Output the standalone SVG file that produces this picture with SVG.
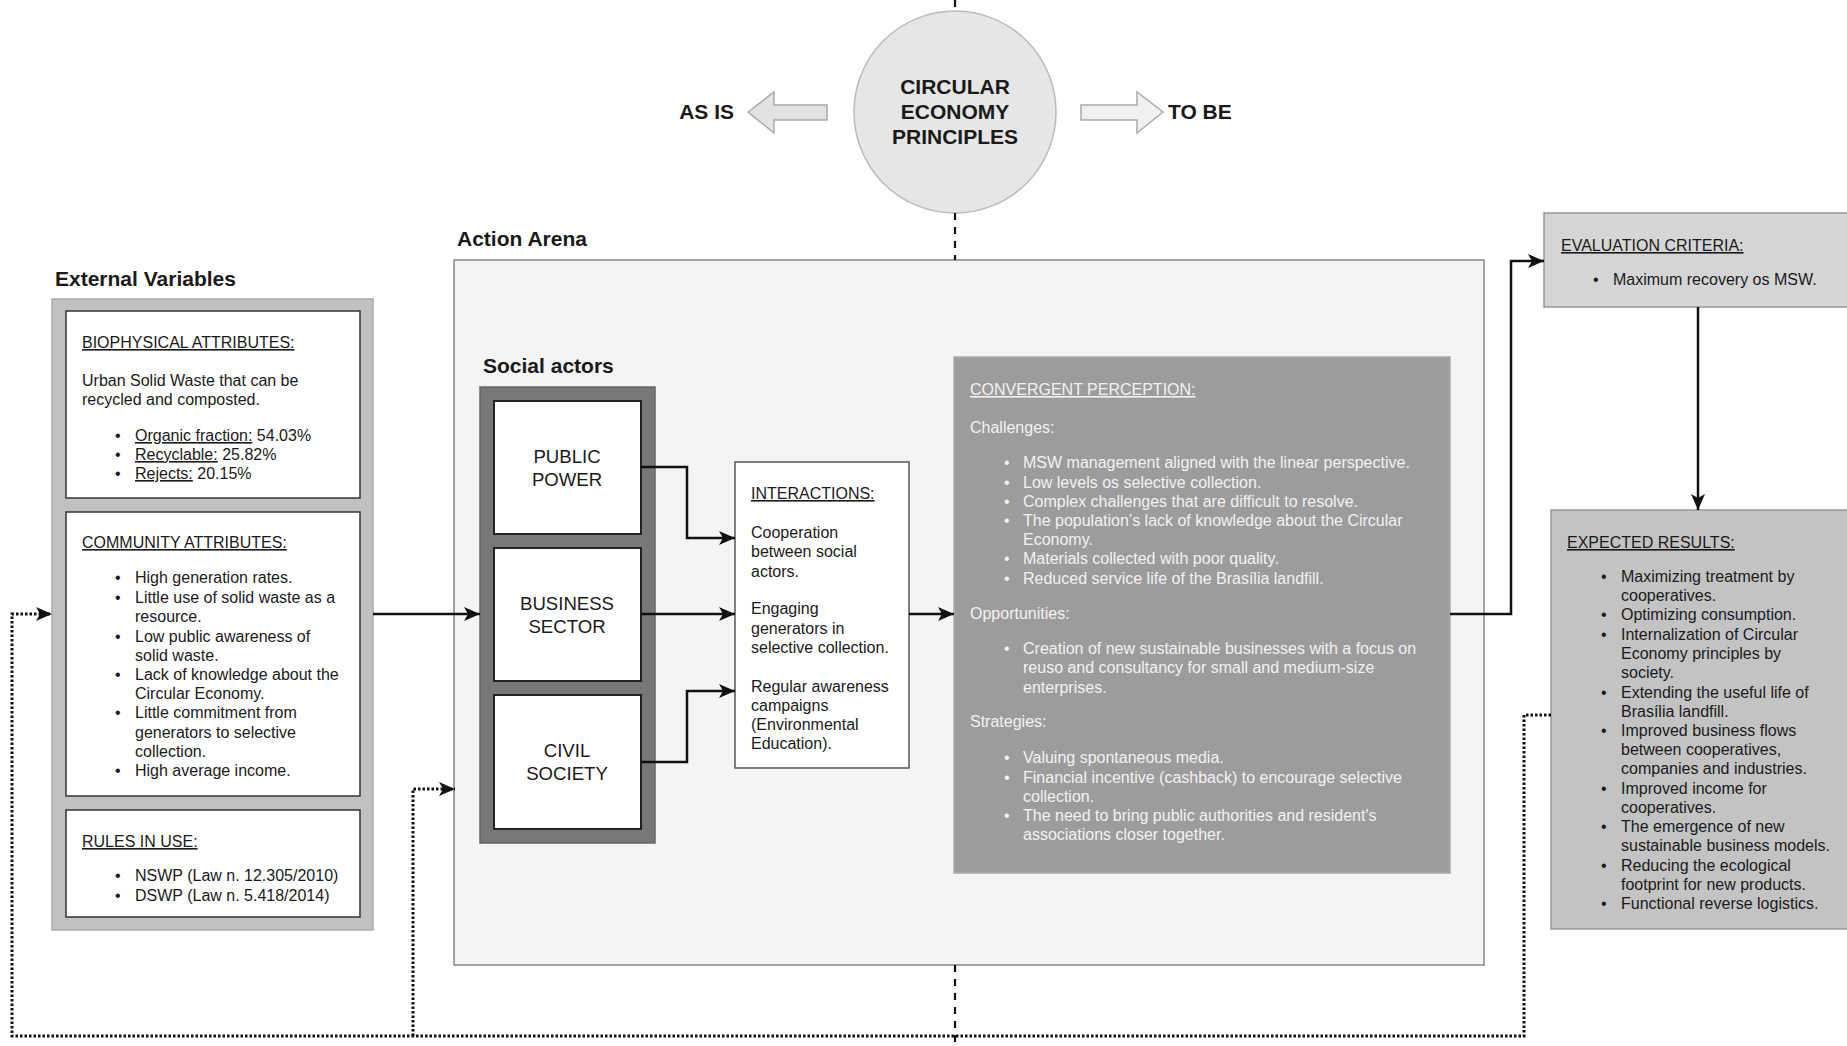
<svg xmlns="http://www.w3.org/2000/svg" width="1847" height="1046" viewBox="0 0 1847 1046">
<style>
text{font-family:"Liberation Sans",Arial,sans-serif;fill:#1a1a1a}
.t{font-size:16px}
.h{font-size:21px;font-weight:bold}
.u{text-decoration:underline}
.w{fill:#f2f2f2}
.actor{font-size:18.6px;text-anchor:middle}
.conn{fill:none;stroke:#111;stroke-width:2.5}
.dot{fill:none;stroke:#111;stroke-width:3;stroke-dasharray:2.5 2}
.dash{fill:none;stroke:#111;stroke-width:2.2;stroke-dasharray:7 7}
</style>
<defs>
<marker id="ah" markerUnits="userSpaceOnUse" markerWidth="17" markerHeight="14" refX="16" refY="7" orient="auto">
<path d="M0,0 L16,7 L0,14 L4,7 z" fill="#111"/>
</marker>
</defs>
<rect width="1847" height="1046" fill="#fff"/>

<g id="circular-economy">
<circle cx="955" cy="112" r="101" fill="#e6e6e6" stroke="#bbb" stroke-width="1.5"/>
<text class="h" x="955" y="94" text-anchor="middle">CIRCULAR</text>
<text class="h" x="955" y="119" text-anchor="middle">ECONOMY</text>
<text class="h" x="955" y="144" text-anchor="middle">PRINCIPLES</text>
</g>
<g id="as-is">
<polygon points="748,112 774,92 774,105 827,105 827,120 774,120 774,133" fill="#e2e2e2" stroke="#aaa" stroke-width="1.5"/>
<text class="h" x="734" y="119" text-anchor="end">AS IS</text>
</g>
<g id="to-be">
<polygon points="1081,105 1137,105 1137,92 1163,112 1137,133 1137,120 1081,120" fill="#f0f0f0" stroke="#aaa" stroke-width="1.5"/>
<text class="h" x="1168" y="119">TO BE</text>
</g>

<g id="external-variables">
<text class="h" x="55" y="286">External Variables</text>
<rect x="52" y="299" width="321" height="631" fill="#c1c1c1" stroke="#aaa" stroke-width="1.5"/>
<g id="biophysical">
<rect x="66" y="311" width="294" height="187" fill="#fff" stroke="#333" stroke-width="1.5"/>
<text class="t u" x="82" y="348">BIOPHYSICAL ATTRIBUTES:</text>
<text class="t" x="82" y="386">Urban Solid Waste that can be</text>
<text class="t" x="82" y="405">recycled and composted.</text>
<text class="t" x="115" y="441">•</text><text class="t" x="135" y="441"><tspan class="u">Organic fraction:</tspan> 54.03%</text>
<text class="t" x="115" y="460">•</text><text class="t" x="135" y="460"><tspan class="u">Recyclable:</tspan> 25.82%</text>
<text class="t" x="115" y="479">•</text><text class="t" x="135" y="479"><tspan class="u">Rejects:</tspan> 20.15%</text>
</g>
<g id="community">
<rect x="66" y="512" width="294" height="284" fill="#fff" stroke="#333" stroke-width="1.5"/>
<text class="t u" x="82" y="548">COMMUNITY ATTRIBUTES:</text>
<text class="t" x="115" y="583">•</text><text class="t" x="135" y="583">High generation rates.</text>
<text class="t" x="115" y="603">•</text><text class="t" x="135" y="603">Little use of solid waste as a</text>
<text class="t" x="135" y="622">resource.</text>
<text class="t" x="115" y="642">•</text><text class="t" x="135" y="642">Low public awareness of</text>
<text class="t" x="135" y="661">solid waste.</text>
<text class="t" x="115" y="680">•</text><text class="t" x="135" y="680">Lack of knowledge about the</text>
<text class="t" x="135" y="699">Circular Economy.</text>
<text class="t" x="115" y="718">•</text><text class="t" x="135" y="718">Little commitment from</text>
<text class="t" x="135" y="738">generators to selective</text>
<text class="t" x="135" y="757">collection.</text>
<text class="t" x="115" y="776">•</text><text class="t" x="135" y="776">High average income.</text>
</g>
<g id="rules">
<rect x="66" y="810" width="294" height="107" fill="#fff" stroke="#333" stroke-width="1.5"/>
<text class="t u" x="82" y="847">RULES IN USE:</text>
<text class="t" x="115" y="881">•</text><text class="t" x="135" y="881">NSWP (Law n. 12.305/2010)</text>
<text class="t" x="115" y="901">•</text><text class="t" x="135" y="901">DSWP (Law n. 5.418/2014)</text>
</g>
</g>

<g id="action-arena">
<text class="h" x="457" y="246">Action Arena</text>
<rect x="454" y="260" width="1030" height="705" fill="#f4f4f4" stroke="#888" stroke-width="1.5"/>
</g>

<g id="social-actors">
<text class="h" x="483" y="373">Social actors</text>
<rect x="480" y="387" width="175" height="456" fill="#777" stroke="#666" stroke-width="1.5"/>
<g id="public-power">
<rect x="494" y="401" width="147" height="133" fill="#fff" stroke="#222" stroke-width="2"/>
<text class="actor" x="567" y="463">PUBLIC</text>
<text class="actor" x="567" y="486">POWER</text>
</g>
<g id="business-sector">
<rect x="494" y="548" width="147" height="133" fill="#fff" stroke="#222" stroke-width="2"/>
<text class="actor" x="567" y="610">BUSINESS</text>
<text class="actor" x="567" y="633">SECTOR</text>
</g>
<g id="civil-society">
<rect x="494" y="695" width="147" height="134" fill="#fff" stroke="#222" stroke-width="2"/>
<text class="actor" x="567" y="757">CIVIL</text>
<text class="actor" x="567" y="780">SOCIETY</text>
</g>
</g>

<g id="interactions">
<rect x="735" y="462" width="174" height="306" fill="#fff" stroke="#555" stroke-width="1.5"/>
<text class="t u" x="751" y="499">INTERACTIONS:</text>
<text class="t" x="751" y="538">Cooperation</text>
<text class="t" x="751" y="557">between social</text>
<text class="t" x="751" y="577">actors.</text>
<text class="t" x="751" y="614">Engaging</text>
<text class="t" x="751" y="634">generators in</text>
<text class="t" x="751" y="653">selective collection.</text>
<text class="t" x="751" y="692">Regular awareness</text>
<text class="t" x="751" y="711">campaigns</text>
<text class="t" x="751" y="730">(Environmental</text>
<text class="t" x="751" y="749">Education).</text>
</g>

<g id="convergent-perception">
<rect x="954" y="357" width="496" height="516" fill="#9c9c9c" stroke="#aaa" stroke-width="1.5"/>
<text class="t u w" x="970" y="395">CONVERGENT PERCEPTION:</text>
<text class="t w" x="970" y="433">Challenges:</text>
<text class="t w" x="1004" y="468">•</text><text class="t w" x="1023" y="468">MSW management aligned with the linear perspective.</text>
<text class="t w" x="1004" y="488">•</text><text class="t w" x="1023" y="488">Low levels os selective collection.</text>
<text class="t w" x="1004" y="507">•</text><text class="t w" x="1023" y="507">Complex challenges that are difficult to resolve.</text>
<text class="t w" x="1004" y="526">•</text><text class="t w" x="1023" y="526">The population’s lack of knowledge about the Circular</text>
<text class="t w" x="1023" y="545">Economy.</text>
<text class="t w" x="1004" y="564">•</text><text class="t w" x="1023" y="564">Materials collected with poor quality.</text>
<text class="t w" x="1004" y="584">•</text><text class="t w" x="1023" y="584">Reduced service life of the Brasília landfill.</text>
<text class="t w" x="970" y="619">Opportunities:</text>
<text class="t w" x="1004" y="654">•</text><text class="t w" x="1023" y="654">Creation of new sustainable businesses with a focus on</text>
<text class="t w" x="1023" y="673">reuso and consultancy for small and medium-size</text>
<text class="t w" x="1023" y="693">enterprises.</text>
<text class="t w" x="970" y="727">Strategies:</text>
<text class="t w" x="1004" y="763">•</text><text class="t w" x="1023" y="763">Valuing spontaneous media.</text>
<text class="t w" x="1004" y="783">•</text><text class="t w" x="1023" y="783">Financial incentive (cashback) to encourage selective</text>
<text class="t w" x="1023" y="802">collection.</text>
<text class="t w" x="1004" y="821">•</text><text class="t w" x="1023" y="821">The need to bring public authorities and resident's</text>
<text class="t w" x="1023" y="840">associations closer together.</text>
</g>

<g id="evaluation-criteria">
<rect x="1544" y="213" width="310" height="94" fill="#d5d5d5" stroke="#999" stroke-width="1.5"/>
<text class="t u" x="1561" y="251">EVALUATION CRITERIA:</text>
<text class="t" x="1593" y="285">•</text><text class="t" x="1613" y="285">Maximum recovery os MSW.</text>
</g>

<g id="expected-results">
<rect x="1551" y="510" width="303" height="419" fill="#c3c3c3" stroke="#999" stroke-width="1.5"/>
<text class="t u" x="1567" y="548">EXPECTED RESULTS:</text>
<text class="t" x="1601" y="582">•</text><text class="t" x="1621" y="582">Maximizing treatment by</text>
<text class="t" x="1621" y="601">cooperatives.</text>
<text class="t" x="1601" y="620">•</text><text class="t" x="1621" y="620">Optimizing consumption.</text>
<text class="t" x="1601" y="640">•</text><text class="t" x="1621" y="640">Internalization of Circular</text>
<text class="t" x="1621" y="659">Economy principles by</text>
<text class="t" x="1621" y="678">society.</text>
<text class="t" x="1601" y="698">•</text><text class="t" x="1621" y="698">Extending the useful life of</text>
<text class="t" x="1621" y="717">Brasília landfill.</text>
<text class="t" x="1601" y="736">•</text><text class="t" x="1621" y="736">Improved business flows</text>
<text class="t" x="1621" y="755">between cooperatives,</text>
<text class="t" x="1621" y="774">companies and industries.</text>
<text class="t" x="1601" y="794">•</text><text class="t" x="1621" y="794">Improved income for</text>
<text class="t" x="1621" y="813">cooperatives.</text>
<text class="t" x="1601" y="832">•</text><text class="t" x="1621" y="832">The emergence of new</text>
<text class="t" x="1621" y="851">sustainable business models.</text>
<text class="t" x="1601" y="871">•</text><text class="t" x="1621" y="871">Reducing the ecological</text>
<text class="t" x="1621" y="890">footprint for new products.</text>
<text class="t" x="1601" y="909">•</text><text class="t" x="1621" y="909">Functional reverse logistics.</text>
</g>

<g id="connectors">
<path class="dash" d="M955,0 V12"/>
<path class="dash" d="M955,213 V260"/>
<path class="dash" d="M955,965 V1046"/>
<path class="conn" d="M373,614 H480" marker-end="url(#ah)"/>
<path class="conn" d="M641,467 H687 V538 H735" marker-end="url(#ah)"/>
<path class="conn" d="M641,614 H735" marker-end="url(#ah)"/>
<path class="conn" d="M641,762 H687 V691 H735" marker-end="url(#ah)"/>
<path class="conn" d="M909,614 H954" marker-end="url(#ah)"/>
<path class="conn" d="M1450,614 H1511 V261 H1544" marker-end="url(#ah)"/>
<path class="conn" d="M1698,307 V510" marker-end="url(#ah)"/>
<path class="dot" d="M1551,715 H1524 V1036 H12 V614 H52" marker-end="url(#ah)"/>
<path class="dot" d="M413,1036 V789 H455" marker-end="url(#ah)"/>
</g>
</svg>
